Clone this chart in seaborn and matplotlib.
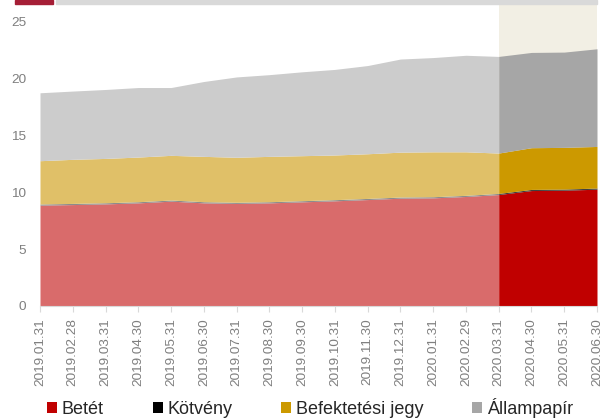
import matplotlib
matplotlib.use("Agg")
import matplotlib.pyplot as plt
import seaborn as sns
import numpy as np
import pandas as pd
from matplotlib.patches import Patch, Rectangle

dates = ["2019.01.31", "2019.02.28", "2019.03.31", "2019.04.30", "2019.05.31", "2019.06.30",
         "2019.07.31", "2019.08.30", "2019.09.30", "2019.10.31", "2019.11.30", "2019.12.31",
         "2020.01.31", "2020.02.29", "2020.03.31", "2020.04.30", "2020.05.31", "2020.06.30"]
betet = [8.85, 8.90, 8.96, 9.05, 9.20, 9.05, 9.00, 9.05, 9.14, 9.23, 9.34, 9.46,
         9.49, 9.61, 9.78, 10.13, 10.16, 10.25]
kotveny = [0.10] * 18
bjegy = [3.80, 3.87, 3.89, 3.92, 3.92, 3.98, 3.95, 3.98, 3.95, 3.92, 3.92, 3.94,
         3.94, 3.82, 3.54, 3.66, 3.66, 3.65]
allampapir = [5.96, 5.99, 6.05, 6.10, 5.95, 6.57, 7.05, 7.17, 7.36, 7.51, 7.74, 8.17,
              8.27, 8.47, 8.48, 8.36, 8.36, 8.57]
series_names = ["Betét", "Kötvény", "Befektetési jegy", "Állampapír"]
light_colors = ["#D96B6B", "#8C8C8C", "#E0C068", "#CCCCCC"]
dark_colors = ["#C00000", "#404040", "#CC9900", "#A6A6A6"]
legend_colors = ["#C00000", "#000000", "#CC9900", "#A6A6A6"]
split_idx = 14

df = pd.DataFrame({"date": dates, "Betét": betet, "Kötvény": kotveny,
                   "Befektetési jegy": bjegy, "Állampapír": allampapir})

sns.set_theme(style="white")
plt.rcParams["font.family"] = ["Liberation Sans", "DejaVu Sans"]
tick_fs, leg_fs = 9.7, 13

fig = plt.figure(figsize=(6, 4.2), dpi=100)
ax = fig.add_axes([40 / 600, 1 - 306 / 420, 557 / 600, 302 / 420])

x = np.arange(len(dates))
ax.axvspan(split_idx, len(dates) - 1, color="#F2EFE4", zorder=0, lw=0)

ys = [df[n].values for n in series_names]
ax.stackplot(x[:split_idx + 1], *[y[:split_idx + 1] for y in ys],
             colors=light_colors, lw=0, zorder=2)
ax.stackplot(x[split_idx:], *[y[split_idx:] for y in ys],
             colors=dark_colors, lw=0, zorder=2)

ax.set_xlim(0, len(dates) - 1)
ax.set_ylim(0, 26.5)
ax.set_yticks([0, 5, 10, 15, 20, 25])
ax.set_xticks(x)
ax.set_xticklabels(dates, rotation=90)
ax.tick_params(axis="x", labelsize=tick_fs, length=4, width=0.8,
               color="#D9D9D9", bottom=True, pad=5)
ax.tick_params(axis="y", labelsize=tick_fs, length=0, pad=10)
for lab in ax.get_xticklabels() + ax.get_yticklabels():
    lab.set_color("#7F7F7F")
for s in ["top", "right", "left"]:
    ax.spines[s].set_visible(False)
ax.spines["bottom"].set_color("#D9D9D9")
ax.spines["bottom"].set_linewidth(0.8)
ax.grid(False)

handles = [Patch(facecolor=c, edgecolor="none") for c in legend_colors]
fig.legend(handles, series_names, loc="center left", bbox_to_anchor=(47 / 600, 1 - 408 / 420),
           ncol=4, frameon=False, fontsize=leg_fs, handlelength=0.56, handleheight=0.56,
           handletextpad=0.26, columnspacing=2.7, borderaxespad=0, borderpad=0)

fig.patches.append(Rectangle((15 / 600, 1 - 4 / 420), 38 / 600, 4 / 420,
                             transform=fig.transFigure, color="#A51E36", zorder=5))
fig.patches.append(Rectangle((56 / 600, 1 - 4 / 420), 541 / 600, 4 / 420,
                             transform=fig.transFigure, color="#D9D9D9", zorder=5))

fig.savefig("out.png", dpi=100, facecolor="white")
